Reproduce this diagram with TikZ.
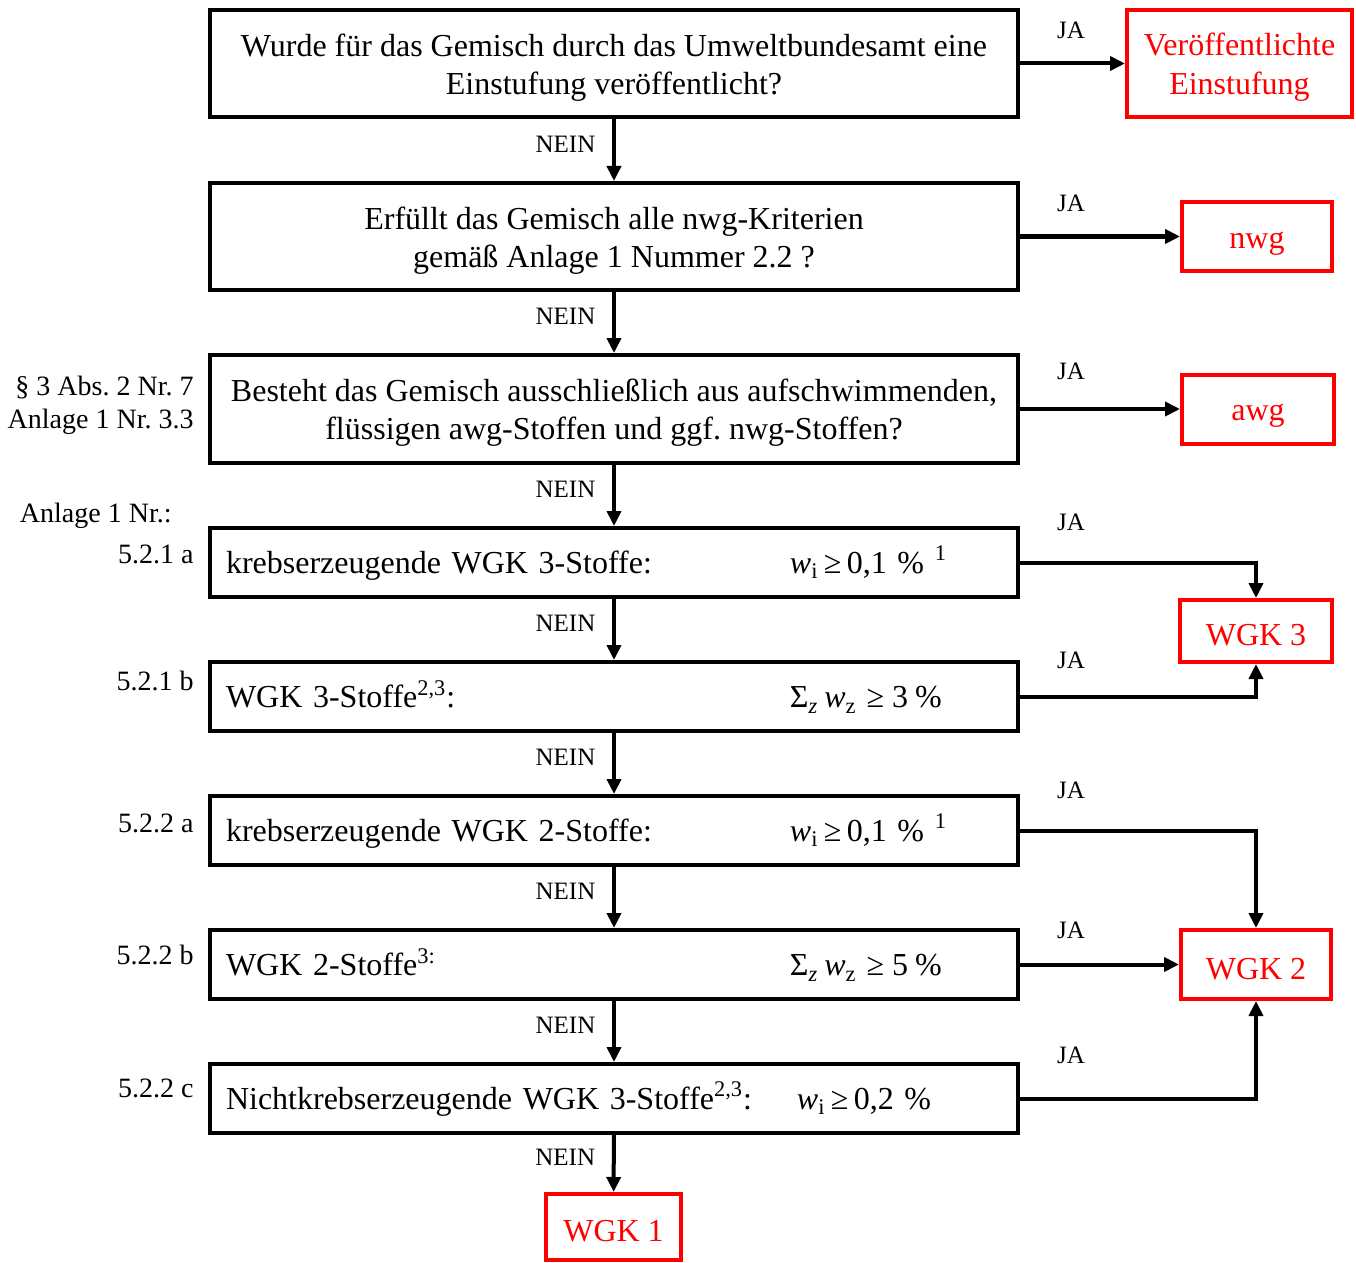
\documentclass[tikz,border=0pt]{standalone}
\usepackage{fontspec}
\setmainfont{Liberation Serif}
\frenchspacing
\usetikzlibrary{arrows.meta}
\tikzset{
  question/.style={draw, line width=2pt, minimum width=404pt, minimum height=53.5pt,
    inner sep=0pt, font=\fontsize{16}{19}\selectfont},
  criterion/.style={draw, line width=2pt, minimum width=404pt, minimum height=34.5pt,
    text width=388pt, inner xsep=8pt, inner ysep=0pt, align=left,
    font=\fontsize{16}{19}\selectfont, execute at begin node={\rule{0pt}{14pt}}},
  result/.style={draw=red, text=red, line width=2pt, inner sep=0pt,
    font=\fontsize{16}{19.5}\selectfont, execute at begin node={\rule{0pt}{15pt}}},
  edge/.style={-{Triangle[length=7.5pt,width=7pt]}, line width=2pt},
  answer/.style={font=\fontsize{12.5}{15}\selectfont},
  nein/.style={answer, left=5pt, yshift=3pt},
  ref/.style={font=\fontsize{14}{16.5}\selectfont, align=right, anchor=east, inner sep=0pt}
}
\newcommand{\twolines}[2]{\raisebox{-2pt}[\height][\depth]{\begin{tabular}{@{}c@{}}#1\\#2\end{tabular}}}
\newcommand{\wi}{\textit{w}\textsubscript{i}\,≥\,}
\newcommand{\swz}{Σ\textsubscript{\textit{z}}\hspace{3pt}\textit{w}\textsubscript{z}\hspace{5pt}≥\hspace{4pt}}

\begin{document}
\begin{tikzpicture}[x=0.5pt, y=-0.5pt]
  \useasboundingbox (0,0) rectangle (1356,1263);
  % questions
  \node[question] (q1) at (614,63.5) {\twolines{Wurde für das Gemisch durch das Umweltbundesamt eine}{Einstufung veröffentlicht?}};
  \node[question] (q2) at (614,236.5) {\twolines{Erfüllt das Gemisch alle nwg-Kriterien}{gemäß Anlage 1 Nummer 2.2 ?}};
  \node[question, minimum height=54pt] (q3) at (614,409) {\twolines{Besteht das Gemisch ausschließlich aus aufschwimmenden,}{flüssigen awg-Stoffen und ggf. nwg-Stoffen?}};
  \node[criterion] (c1) at (614,562.5) {\makebox[282pt][l]{krebserzeugende WGK 3-Stoffe:}\wi 0,1 \% \textsuperscript{1}};
  \node[criterion] (c2) at (614,696.5) {\makebox[282pt][l]{WGK 3-Stoffe\textsuperscript{2,3}:}\swz 3\hspace{3.5pt}\%};
  \node[criterion] (c3) at (614,830.5) {\makebox[282pt][l]{krebserzeugende WGK 2-Stoffe:}\wi 0,1 \% \textsuperscript{1}};
  \node[criterion] (c4) at (614,964.5) {\makebox[282pt][l]{WGK 2-Stoffe\textsuperscript{3:}}\swz 5\hspace{3.5pt}\%};
  \node[criterion] (c5) at (614,1098.5) {\makebox[285.5pt][l]{Nichtkrebserzeugende WGK 3-Stoffe\textsuperscript{2,3}:}\wi 0,2 \%};
  % results
  \node[result, minimum width=112.5pt, minimum height=53.5pt] (pub) at (1239.5,63.5) {\twolines{Veröffentlichte}{Einstufung}};
  \node[result, minimum width=75pt, minimum height=34.5pt] (nwg) at (1257,236.5) {nwg};
  \node[result, minimum width=76pt, minimum height=34.5pt] (awg) at (1258,409) {awg};
  \node[result, minimum width=76pt, minimum height=31pt] (wgk3) at (1256,631) {WGK 3};
  \node[result, minimum width=75pt, minimum height=34.5pt] (wgk2) at (1256,964.5) {WGK 2};
  \node[result, minimum width=67.5pt, minimum height=33pt] (wgk1) at (613.5,1227) {WGK 1};
  % references
  \node[ref] (r0) at (194,405) {§ 3 Abs. 2 Nr. 7\\Anlage 1 Nr. 3.3};
  \node[ref] (r1) at (172,516) {Anlage 1 Nr.:};
  \node[ref] (r2) at (194,554) {5.2.1 a};
  \node[ref] (r3) at (194,681) {5.2.1 b};
  \node[ref] (r4) at (194,823) {5.2.2 a};
  \node[ref] (r5) at (194,955) {5.2.2 b};
  \node[ref] (r6) at (194,1088) {5.2.2 c};
  % NEIN
  \draw[edge] (q1) -- node[nein] (n1) {NEIN} (q2);
  \draw[edge] (q2) -- node[nein] (n2) {NEIN} (q3);
  \draw[edge] (q3) -- node[nein] (n3) {NEIN} (c1);
  \draw[edge] (c1) -- node[nein] (n4) {NEIN} (c2);
  \draw[edge] (c2) -- node[nein] (n5) {NEIN} (c3);
  \draw[edge] (c3) -- node[nein] (n6) {NEIN} (c4);
  \draw[edge] (c4) -- node[nein] (n7) {NEIN} (c5);
  \draw[edge] (c5) -- node[nein] (n8) {NEIN} (wgk1);
  % JA
  \draw[edge] (q1) -- (pub);
  \draw[edge] (q2) -- (nwg);
  \draw[edge] (q3) -- (awg);
  \draw[edge] (c1.east) -| (wgk3.north);
  \draw[edge] (c2.east) -| (wgk3.south);
  \draw[edge] (c3.east) -| (wgk2.north);
  \draw[edge] (c4) -- (wgk2);
  \draw[edge] (c5.east) -| (wgk2.south);
  \node[answer] (j1) at (1071,30) {JA};
  \node[answer] (j2) at (1071,203) {JA};
  \node[answer] (j3) at (1071,371) {JA};
  \node[answer] (j4) at (1071,522) {JA};
  \node[answer] (j5) at (1071,660) {JA};
  \node[answer] (j6) at (1071,790) {JA};
  \node[answer] (j7) at (1071,930) {JA};
  \node[answer] (j8) at (1071,1055) {JA};
\end{tikzpicture}
\end{document}
